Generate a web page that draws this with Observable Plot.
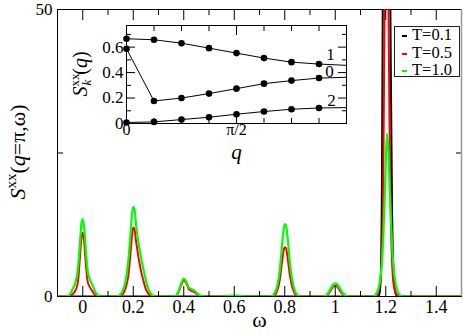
<!DOCTYPE html>
<html><head><meta charset="utf-8">
<script src="https://cdn.jsdelivr.net/npm/d3@7"></script>
<script src="https://cdn.jsdelivr.net/npm/@observablehq/plot@0.6"></script>
<style>
body{margin:0;background:#fff;}
#wrap{position:relative;width:463px;height:335px;font-family:"Liberation Serif","Times New Roman","Tinos","DejaVu Serif",serif;overflow:hidden;}
#wrap svg{position:absolute;}
.leg{position:absolute;left:394px;top:26px;width:66px;height:51px;box-sizing:border-box;border:1px solid #222;background:#fff;}
.row{position:absolute;left:0;height:16px;width:64px;}
.sw{position:absolute;left:7px;top:7px;width:5px;height:2px;}
.lt{position:absolute;left:17px;top:-2px;font-size:16.5px;line-height:18px;color:#000;white-space:nowrap;}
</style></head><body><div id="wrap"></div>
<script>
// ---- main chart data: S^xx(q=pi, omega) for three temperatures, [omega, S] ----
const seriesT01 = [[-0.1,0],[1.17,0],[1.175,0.5],[1.18,3],[1.185,20],[1.19,70],[1.195,110],[1.2,120],[1.205,115],[1.21,100],[1.215,70],[1.22,40],[1.225,15],[1.23,5],[1.235,1.5],[1.24,0.4],[1.25,0],[1.5,0]];
const seriesT05 = [[-0.1,0],[-0.06,0],[-0.05,0.1],[-0.04,0.4],[-0.03,1.0],[-0.02,2.3],[-0.015,4.5],[-0.01,7.5],[-0.005,10.3],[0,11.1],[0.005,9.8],[0.01,7.0],[0.015,4.3],[0.02,2.5],[0.03,1.5],[0.04,0.8],[0.05,0.2],[0.06,0],
 [0.14,0],[0.15,0.1],[0.16,0.5],[0.17,1.5],[0.18,3.5],[0.185,5.5],[0.19,8.0],[0.195,10.5],[0.2,12.0],[0.205,11.8],[0.21,10.0],[0.215,8.5],[0.22,7.0],[0.225,5.8],[0.23,4.6],[0.24,2.8],[0.25,1.3],[0.26,0.5],[0.27,0.1],[0.28,0],
 [0.36,0],[0.37,0.1],[0.38,0.8],[0.39,2.0],[0.4,2.8],[0.41,2.3],[0.42,1.3],[0.43,1.0],[0.44,0.8],[0.45,0.5],[0.46,0.2],[0.47,0],
 [0.75,0],[0.76,0.2],[0.77,1.0],[0.78,2.8],[0.785,4.5],[0.79,6.3],[0.795,7.9],[0.8,8.6],[0.805,8.4],[0.81,7.2],[0.815,5.5],[0.82,3.8],[0.83,1.6],[0.84,0.5],[0.85,0.1],[0.86,0],
 [0.96,0],[0.97,0.3],[0.98,0.9],[0.99,1.6],[1.0,1.9],[1.01,1.6],[1.02,0.9],[1.03,0.4],[1.04,0.1],[1.05,0],
 [1.15,0],[1.16,0.1],[1.17,0.8],[1.18,3.5],[1.185,8],[1.19,20],[1.195,48],[1.2,75],[1.205,80],[1.21,55],[1.215,30],[1.22,14],[1.225,6],[1.23,2.5],[1.24,0.6],[1.25,0.1],[1.26,0],[1.5,0]];
const seriesT10 = [[-0.1,0],[-0.07,0],[-0.06,0.1],[-0.05,0.4],[-0.04,1.3],[-0.03,2.3],[-0.025,3.2],[-0.02,4.5],[-0.015,7.0],[-0.01,10.0],[-0.005,12.8],[0,13.5],[0.005,12.3],[0.01,9.5],[0.015,6.5],[0.02,4.3],[0.025,3.4],[0.03,2.8],[0.04,1.8],[0.05,0.8],[0.06,0.2],[0.07,0],
 [0.13,0],[0.14,0.1],[0.15,0.4],[0.16,1.2],[0.17,2.8],[0.18,6.0],[0.185,8.5],[0.19,11.5],[0.195,14.3],[0.2,15.6],[0.205,15.2],[0.21,13.0],[0.215,11.0],[0.22,9.5],[0.225,8.2],[0.23,7.0],[0.24,4.8],[0.25,2.8],[0.26,1.3],[0.27,0.5],[0.28,0.1],[0.29,0],
 [0.36,0],[0.37,0.2],[0.38,1.0],[0.39,2.3],[0.4,3.1],[0.41,2.6],[0.42,1.6],[0.43,1.3],[0.44,1.1],[0.45,0.7],[0.46,0.3],[0.47,0.1],[0.48,0],
 [0.56,0],[0.58,0.1],[0.6,0.15],[0.62,0.1],[0.64,0],
 [0.74,0],[0.75,0.1],[0.76,0.6],[0.77,1.8],[0.78,4.5],[0.785,6.8],[0.79,9.2],[0.795,11.5],[0.8,12.6],[0.805,12.4],[0.81,10.8],[0.815,8.5],[0.82,6.0],[0.83,2.8],[0.84,1.0],[0.85,0.3],[0.86,0],
 [0.95,0],[0.96,0.1],[0.97,0.5],[0.98,1.2],[0.99,2.0],[1.0,2.3],[1.01,2.0],[1.02,1.3],[1.03,0.6],[1.04,0.2],[1.05,0],
 [1.15,0],[1.16,0.3],[1.17,1.2],[1.18,3.5],[1.185,6.0],[1.19,10.0],[1.195,16.0],[1.2,23.5],[1.205,28.4],[1.21,26.0],[1.215,20.0],[1.22,14.0],[1.225,9.0],[1.23,5.5],[1.24,2.0],[1.25,0.6],[1.26,0.1],[1.27,0],[1.5,0]];

const xMajor = [0, 0.2, 0.4, 0.6, 0.8, 1, 1.2, 1.4];
const xMajorText = ["0", "0.2", "0.4", "0.6", "0.8", "1", "1.2", "1.4"];
const xMinor = [0.1, 0.3, 0.5, 0.7, 0.9, 1.1, 1.3];
const yMajor = [0, 50];
const yMajorText = ["0", "50"];
const yMinor = [25];
const xTitle = "ω";

const legendLabels = ["T=0.1", "T=0.5", "T=1.0"];
const legendColors = ["#000000", "#ff0000", "#00ff00"];

// ---- inset data: S_k^xx(q), q in units of pi ----
const qInset = [0, 0.125, 0.25, 0.375, 0.5, 0.625, 0.75, 0.875, 1];
const sK1 = [0.666, 0.658, 0.631, 0.592, 0.553, 0.514, 0.482, 0.467, 0.457];
const sK0 = [0.587, 0.177, 0.200, 0.235, 0.274, 0.313, 0.337, 0.357, 0.363];
const sK2 = [0.008, 0.0125, 0.031, 0.049, 0.073, 0.094, 0.112, 0.122, 0.125];
const curveNames = ["1", "0", "2"];
const curveLabelQ = [0.927, 0.923, 0.932];
const curveLabelS = [0.543, 0.41, 0.182];
const qMajor = [0, 0.5, 1];
const qMinor = [0.125, 0.25, 0.375, 0.625, 0.75, 0.875];
const qTickVals = [0, 0.5];
const qTickText = ["0", "π/2"];
const sMajor = [0, 0.2, 0.4, 0.6];
const sMajorText = ["0", "0.2", "0.4", "0.6"];
const sMinor = [0.1, 0.3, 0.5, 0.7];

const FONT = "'Liberation Serif', 'Times New Roman', Tinos, 'DejaVu Serif', serif";
const wrap = document.getElementById("wrap");
const px = d => d[0], py = d => d[1];
const blank = () => "";

const main = Plot.plot({
  width: 463, height: 335,
  marginLeft: 57, marginRight: 2, marginTop: 9, marginBottom: 39,
  x: {domain: [-0.1, 1.5]},
  y: {domain: [0, 50]},
  style: {fontFamily: FONT, background: "white", color: "black"},
  marks: [
    Plot.frame({stroke: "black"}),
    Plot.line(seriesT01, {x: px, y: py, stroke: legendColors[0], strokeWidth: 2, curve: "monotone-x", clip: true}),
    Plot.line(seriesT05, {x: px, y: py, stroke: legendColors[1], strokeWidth: 2, curve: "monotone-x", clip: true}),
    Plot.line(seriesT10, {x: px, y: py, stroke: legendColors[2], strokeWidth: 2.2, curve: "monotone-x", clip: true}),
    Plot.axisX({ticks: xMajor, tickSize: -10, tickFormat: blank, label: null}),
    Plot.axisX({ticks: xMinor, tickSize: -5, tickFormat: blank, label: null}),
    Plot.axisX({ticks: xMajor, anchor: "top", tickSize: -10, tickFormat: blank, label: null}),
    Plot.axisX({ticks: xMinor, anchor: "top", tickSize: -5, tickFormat: blank, label: null}),
    Plot.axisX({ticks: xMajor, tickSize: 0, tickPadding: 4, fontSize: 18, tickFormat: (d, i) => xMajorText[i], label: null}),
    Plot.axisY({ticks: yMinor, tickSize: -6, tickFormat: blank, label: null}),
    Plot.axisY({ticks: yMinor, anchor: "right", tickSize: -6, tickFormat: blank, label: null}),
    Plot.axisY({ticks: yMajor, tickSize: 0, tickPadding: 5, fontSize: 17, tickFormat: (d, i) => yMajorText[i], label: null}),
    Plot.text([xTitle], {frameAnchor: "bottom", dy: 30, fontSize: 22, text: d => d}),
    Plot.ruleX([1.5], {stroke: "#999", strokeWidth: 1.5})
  ]
});
main.style.left = "0px"; main.style.top = "0px";
wrap.appendChild(main);

// rich y-axis title of the main chart
{
  const t = d3.select(main).append("text")
    .attr("transform", "translate(25,152) rotate(-90)")
    .attr("text-anchor", "middle").attr("font-size", 22).attr("font-family", FONT).attr("fill", "black");
  t.append("tspan").attr("font-style", "italic").text("S");
  t.append("tspan").attr("font-size", 15).attr("dy", -9).text("xx");
  t.append("tspan").attr("dy", 9).text("(");
  t.append("tspan").attr("font-style", "italic").text("q");
  t.append("tspan").text("=π,ω)");
}

const insetRows = (vals) => qInset.map((q, i) => ({q, s: vals[i]}));
const ins1 = insetRows(sK1), ins0 = insetRows(sK0), ins2 = insetRows(sK2);
const labelRows = curveNames.map((n, i) => ({n, q: curveLabelQ[i], s: curveLabelS[i]}));

const inset = Plot.plot({
  width: 284, height: 142,
  marginLeft: 60, marginRight: 4, marginTop: 4, marginBottom: 40,
  x: {domain: [0, 1]},
  y: {domain: [0, 0.77]},
  style: {fontFamily: FONT, background: "transparent", color: "black", overflow: "visible"},
  marks: [
    Plot.frame({fill: "white", stroke: "black"}),
    Plot.axisX({ticks: qMajor, tickSize: -9, tickFormat: blank, label: null}),
    Plot.axisX({ticks: qMinor, tickSize: -5, tickFormat: blank, label: null}),
    Plot.axisX({ticks: qMajor, anchor: "top", tickSize: -9, tickFormat: blank, label: null}),
    Plot.axisX({ticks: qMinor, anchor: "top", tickSize: -5, tickFormat: blank, label: null}),
    Plot.axisY({ticks: sMajor, tickSize: -9, tickFormat: blank, label: null}),
    Plot.axisY({ticks: sMinor, tickSize: -5, tickFormat: blank, label: null}),
    Plot.axisY({ticks: sMajor, anchor: "right", tickSize: -9, tickFormat: blank, label: null}),
    Plot.axisY({ticks: sMinor, anchor: "right", tickSize: -5, tickFormat: blank, label: null}),
    Plot.axisX({ticks: qTickVals, tickSize: 0, tickPadding: 0, fontSize: 16, tickFormat: (d, i) => qTickText[i], label: null}),
    Plot.axisY({ticks: sMajor, tickSize: 0, tickPadding: 3, fontSize: 17, tickFormat: (d, i) => sMajorText[i], label: null}),
    Plot.line(ins1, {x: "q", y: "s", stroke: "black", strokeWidth: 1}),
    Plot.line(ins0, {x: "q", y: "s", stroke: "black", strokeWidth: 1}),
    Plot.line(ins2, {x: "q", y: "s", stroke: "black", strokeWidth: 1}),
    Plot.dot(ins1.filter(d => d.q < 1), {x: "q", y: "s", r: 3.3, fill: "black"}),
    Plot.dot(ins0.filter(d => d.q < 1), {x: "q", y: "s", r: 3.3, fill: "black"}),
    Plot.dot(ins2.filter(d => d.q < 1), {x: "q", y: "s", r: 3.3, fill: "black"}),
    Plot.text(labelRows, {x: "q", y: "s", text: "n", fontSize: 17}),
    Plot.text(["q"], {frameAnchor: "bottom", dy: 35, fontSize: 21, fontStyle: "italic", text: d => d})
  ]
});
inset.style.left = "66px"; inset.style.top = "21px";
wrap.appendChild(inset);

// rich y-axis title of the inset
{
  const t = d3.select(inset).append("text")
    .attr("transform", "translate(21,53) rotate(-90)")
    .attr("text-anchor", "middle").attr("font-size", 20).attr("font-family", FONT).attr("fill", "black");
  t.append("tspan").attr("font-style", "italic").text("S");
  t.append("tspan").attr("font-size", 13).attr("dy", -8).text("xx");
  t.append("tspan").attr("font-size", 13).attr("font-style", "italic").attr("dx", -12).attr("dy", 12).text("k");
  t.append("tspan").attr("dx", 5).attr("dy", -4).text("(");
  t.append("tspan").attr("font-style", "italic").text("q");
  t.append("tspan").text(")");
}

// legend
const leg = document.createElement("div");
leg.className = "leg";
legendLabels.forEach((lab, i) => {
  const row = document.createElement("div");
  row.className = "row";
  row.style.top = (1 + i * 17.5) + "px";
  const sw = document.createElement("div");
  sw.className = "sw"; sw.style.background = legendColors[i];
  const tx = document.createElement("div");
  tx.className = "lt"; tx.textContent = lab;
  row.appendChild(sw); row.appendChild(tx);
  leg.appendChild(row);
});
wrap.appendChild(leg);
</script></body></html>
